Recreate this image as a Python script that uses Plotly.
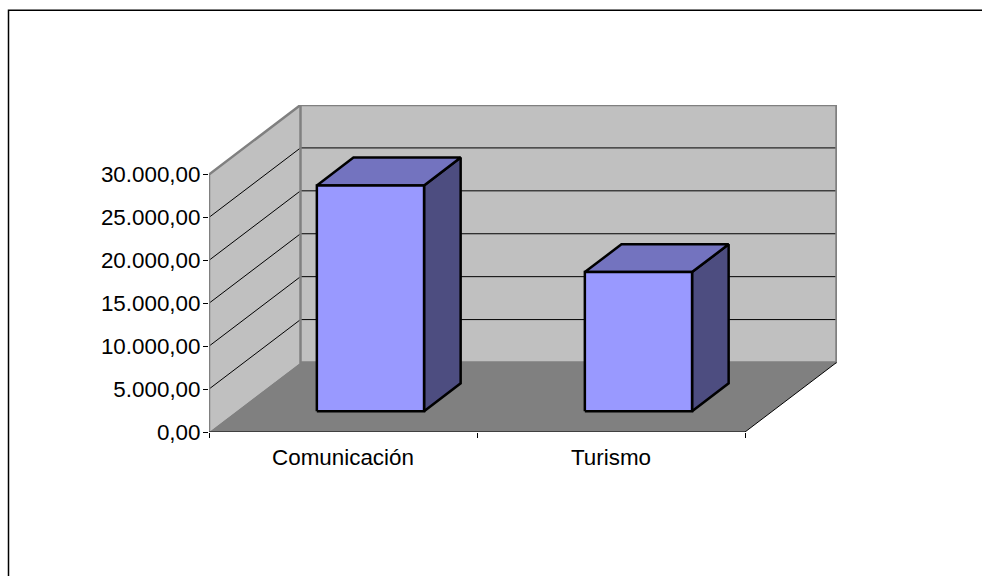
import plotly.graph_objects as go

# datos
categorias = ["Comunicación", "Turismo"]
valores = [26300, 16200]
y_ticks = [0, 5000, 10000, 15000, 20000, 25000, 30000]
y_labels = ["0,00", "5.000,00", "10.000,00", "15.000,00", "20.000,00", "25.000,00", "30.000,00"]

W, H = 982, 576
L, R, T, B = 209, 837, 105.3, 432.3   # area de trazado en pixeles
ANCHO_CAT = 268.0
PX_POR_UNIDAD = 257.5 / 30000
DX = 91.5 / ANCHO_CAT             # desplazamiento de profundidad en unidades de eje
DY = 69.5 / PX_POR_UNIDAD

N = len(categorias)
Y_MAX = y_ticks[-1]


def proy(x, y, z):
    # perspectiva oblicua: z=0 delante, z=1 al fondo
    return x + z * DX, y + z * DY


def poligono(fig, puntos, relleno=None, linea=None, ancho=0):
    xs, ys = zip(*[proy(*p) for p in puntos])
    fig.add_trace(go.Scatter(
        x=list(xs), y=list(ys), mode="lines", cliponaxis=False,
        fill="toself" if relleno else "none", fillcolor=relleno,
        line=dict(color=linea or "rgba(0,0,0,0)", width=ancho),
        hoverinfo="skip", showlegend=False,
    ))


fig = go.Figure()

# paredes y suelo
poligono(fig, [(0, 0, 0), (0, Y_MAX, 0), (0, Y_MAX, 1), (0, 0, 1), (0, 0, 0)], "#C0C0C0")
poligono(fig, [(0, 0, 1), (0, Y_MAX, 1), (N, Y_MAX, 1), (N, 0, 1), (0, 0, 1)], "#C0C0C0")

# rejilla
for v in y_ticks[1:-1]:
    poligono(fig, [(0, v, 0), (0, v, 1), (N, v, 1)], linea="#000000", ancho=1)

# bordes de las paredes
poligono(fig, [(0, 0, 0), (0, Y_MAX, 0), (0, Y_MAX, 1), (N, Y_MAX, 1), (N, 0, 1)], linea="#808080", ancho=2.5)
poligono(fig, [(0, Y_MAX, 1), (0, 0, 1), (N, 0, 1)], linea="#808080", ancho=2.5)

poligono(fig, [(0, 0, 0), (N, 0, 0), (N, 0, 1), (0, 0, 1), (0, 0, 0)], "#808080")
poligono(fig, [(0, 0, 0), (N, 0, 0), (N, 0, 1)], linea="#000000", ancho=1)

# barras
for i, v in enumerate(valores):
    x0, x1 = i + 0.3, i + 0.7
    z0, z1 = 0.3, 0.7
    poligono(fig, [(x1, 0, z0), (x1, v, z0), (x1, v, z1), (x1, 0, z1), (x1, 0, z0)],
             "#4D4D80", "#000000", 2.5)
    poligono(fig, [(x0, v, z0), (x1, v, z0), (x1, v, z1), (x0, v, z1), (x0, v, z0)],
             "#7373BF", "#000000", 2.5)
    poligono(fig, [(x0, 0, z0), (x1, 0, z0), (x1, v, z0), (x0, v, z0), (x0, 0, z0)],
             "#9999FF", "#000000", 2.5)

fuente = dict(family="Liberation Sans, Arial, sans-serif", size=22.4, color="#000000")

fig.update_xaxes(
    range=[0, (R - L) / ANCHO_CAT],
    tickmode="array",
    tickvals=[i + 0.5 for i in range(N)],
    ticktext=categorias,
    ticks="",
    ticklabelstandoff=10,
    tickfont=fuente,
    showgrid=False, zeroline=False, showline=False,
    minor=dict(tickmode="array", tickvals=list(range(N + 1)), ticks="outside",
               ticklen=5, tickwidth=1, tickcolor="#000000", showgrid=False),
)
fig.update_yaxes(
    range=[0, (B - T) / PX_POR_UNIDAD],
    tickmode="array",
    tickvals=y_ticks,
    ticktext=y_labels,
    ticks="outside",
    ticklen=5, tickwidth=1, tickcolor="#000000",
    ticklabelstandoff=-2,
    tickfont=fuente,
    showgrid=False, zeroline=False, showline=False,
)

# marco del area del grafico
marco_x0 = (8.5 - L) / (R - L)
marco_y1 = (H - 10.5 - (H - B)) / (B - T)
marco_x1 = (W + 5 - L) / (R - L)
marco_y0 = (-5 - (H - B)) / (B - T)
fig.update_layout(
    width=W, height=H,
    margin=dict(l=L, r=W - R, t=T, b=H - B, autoexpand=False),
    paper_bgcolor="#FFFFFF", plot_bgcolor="rgba(0,0,0,0)",
    showlegend=False,
    shapes=[dict(type="rect", xref="paper", yref="paper",
                 x0=marco_x0, x1=marco_x1, y0=marco_y0, y1=marco_y1,
                 line=dict(color="#000000", width=1.5))],
)

fig.write_html(
    "out.html",
    config=dict(displayModeBar=False),
    post_script="document.body.style.margin='0';document.body.style.overflow='hidden';",
)
